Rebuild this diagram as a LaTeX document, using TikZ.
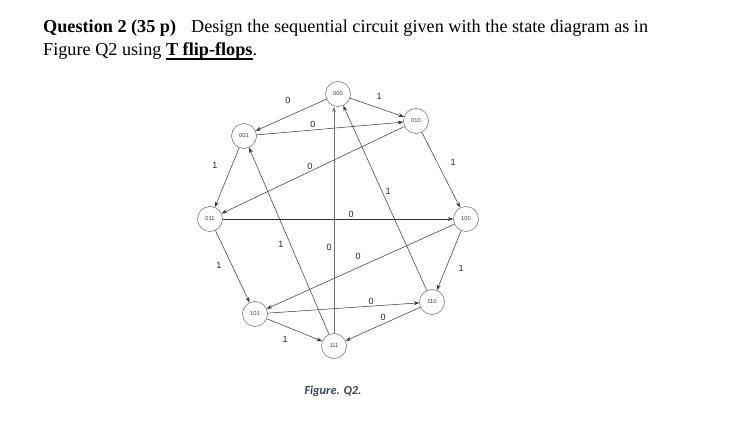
\documentclass[tikz,border=0pt]{standalone}
\usepackage{fontspec}
\setmainfont{Liberation Serif}
\newfontfamily\lsans{Liberation Sans}
\newfontfamily\carl{Carlito}
\usetikzlibrary{arrows.meta}
\definecolor{figblue}{HTML}{3A4656}
\newcommand\myul[1]{\setbox0\hbox{#1}\rlap{\rule[-3.6pt]{\wd0}{1.4pt}}\box0}
\begin{document}
\begin{tikzpicture}[x=1pt,y=-1pt,
  st/.style={circle,draw=black!60,line width=0.5pt,minimum size=25pt,inner sep=0pt,font=\lsans\fontsize{5.8}{6}\selectfont,text=black!75},
  tr/.style={draw=black!80,line width=0.5pt,-{Stealth[length=5.5pt,width=3.8pt]}},
  lb/.style={font=\lsans\fontsize{9}{10}\selectfont,text=black!85,inner sep=0pt},
  ttl/.style={anchor=base west,inner sep=0pt,font=\fontsize{18.2}{20}\selectfont}]
\useasboundingbox (0,0) rectangle (737,425);
\fill[white] (0,0) rectangle (737,425);
% title
\node[ttl] (t1) at (43,33) {\textbf{Question 2 (35 p)}\hspace{15pt}Design the sequential circuit given with the state diagram as in};
\node[ttl] (t2) at (43,56) {Figure Q2 using \textbf{\myul{T flip-flops}}.};
% states
\node[st] (n000) at (338,94) {000};
\node[st] (n010) at (416,121) {010};
\node[st] (n001) at (244,136) {001};
\node[st] (n011) at (210,219) {011};
\node[st] (n100) at (466,219) {100};
\node[st] (n101) at (255,314) {101};
\node[st] (n110) at (432,302) {110};
\node[st] (n111) at (334,346) {111};
% transitions
\draw[tr] (n000) -- (n001);
\draw[tr] (n000) -- (n010);
\draw[tr] (n001) -- (n010);
\draw[tr] (n010) -- (n011);
\draw[tr] (n001) -- (n011);
\draw[tr] (n010) -- (n100);
\draw[tr] (n110) -- (n000);
\draw[tr] (n111) -- (n001);
\draw[tr] (n011) -- (n100);
\draw[tr,draw=black!55] (n111) -- (n111 |- n000.south);
\draw[tr] (n100) -- (n101);
\draw[tr] (n011) -- (n101);
\draw[tr] (n100) -- (n110);
\draw[tr] (n101) -- (n110);
\draw[tr] (n110) -- (n111);
\draw[tr] (n101) -- (n111);
% labels
\node[lb] (l1) at (288,100) {0};
\node[lb] (l2) at (379,96) {1};
\node[lb] (l3) at (313,124) {0};
\node[lb] (l4) at (310,166) {0};
\node[lb] (l5) at (215,165) {1};
\node[lb] (l6) at (453,162) {1};
\node[lb] (l7) at (388,191) {1};
\node[lb] (l8) at (281,244) {1};
\node[lb] (l9) at (351,214) {0};
\node[lb] (l10) at (329,247) {0};
\node[lb] (l11) at (358,256) {0};
\node[lb] (l12) at (219,265) {1};
\node[lb] (l13) at (461,268) {1};
\node[lb] (l14) at (371,301) {0};
\node[lb] (l15) at (383,317) {0};
\node[lb] (l16) at (285,339) {1};
% caption
\node[font=\carl\bfseries\itshape\fontsize{12.3}{14}\selectfont,text=figblue] (cap) at (333,391) {Figure. Q2.};
\end{tikzpicture}
\end{document}
